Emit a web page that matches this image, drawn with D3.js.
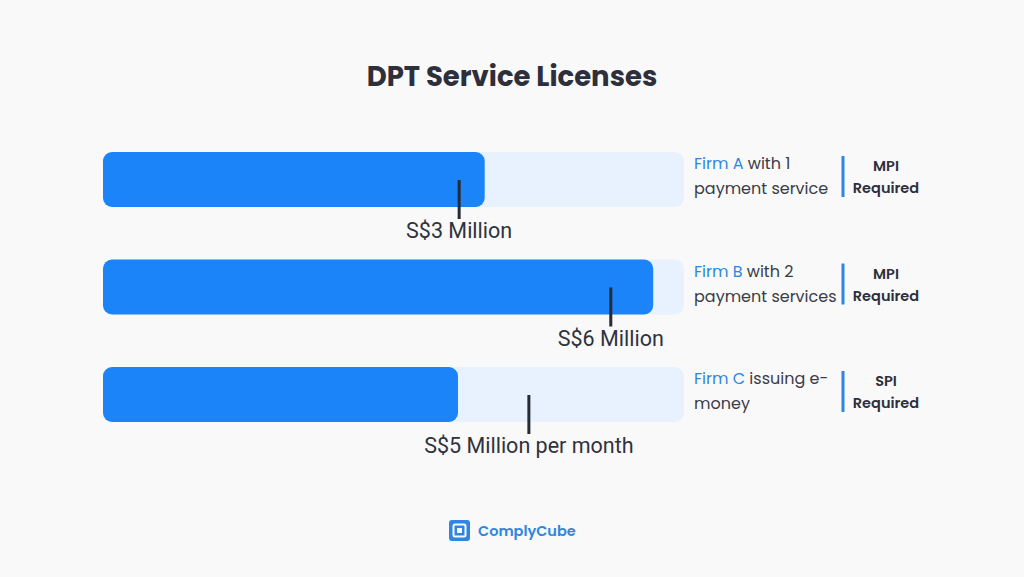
<!DOCTYPE html>
<html><head><meta charset="utf-8">
<script src="https://cdn.jsdelivr.net/npm/d3@7"></script>
<style>
html,body{margin:0;padding:0;background:#f9f9fa;}
svg{display:block;}
</style></head>
<body>
<svg id="chart" width="1024" height="577"></svg>
<script>
// ---- data ----
const title = "DPT Service Licenses";
const firms = ["Firm A", "Firm B", "Firm C"];
const descLine1 = [" with 1", " with 2", " issuing e-"];
const descLine2 = ["payment service", "payment services", "money"];
const fillValues = [6.57, 9.47, 6.11];      // blue bar length (0-10 scale)
const markerValues = [6.13, 8.74, 7.33];    // threshold marker position (0-10 scale)
const markerLabels = ["S$3 Million", "S$6 Million", "S$5 Million per month"];
const licenseType = ["MPI", "MPI", "SPI"];
const licenseNote = ["Required", "Required", "Required"];
const brand = "ComplyCube";

const svg = d3.select("#chart");
const W = 1024, H = 577;
svg.append("rect").attr("width", W).attr("height", H).attr("fill", "#f9f9fa");

const x = d3.scaleLinear().domain([0, 10]).range([103, 684]);
const y = d3.scaleBand().domain(firms).range([152, 422]).paddingInner(0.4884).paddingOuter(0);
const bh = y.bandwidth();

const dark = "#2d2f3a";
const blue = "#1a84f8";
const font = "Poppins, Inter, 'Noto Sans', sans-serif";

svg.append("text").attr("x", 512).attr("y", 86).attr("text-anchor", "middle")
  .attr("font-family", font).attr("font-weight", 700)
  .attr("font-size", 27.5).attr("fill", dark).text(title);

const g = svg.selectAll("g.row").data(firms).enter().append("g").attr("class", "row");

g.append("rect").attr("x", x(0)).attr("y", d => y(d))
  .attr("width", x(10) - x(0)).attr("height", bh).attr("rx", 9)
  .attr("fill", "#e8f2fe");
g.append("rect").attr("x", x(0)).attr("y", d => y(d))
  .attr("width", (d, i) => x(fillValues[i]) - x(0)).attr("height", bh).attr("rx", 9)
  .attr("fill", blue);
g.append("line")
  .attr("x1", (d, i) => x(markerValues[i])).attr("x2", (d, i) => x(markerValues[i]))
  .attr("y1", d => y(d) + 28).attr("y2", d => y(d) + 67)
  .attr("stroke", "#262a35").attr("stroke-width", 3);
g.append("text")
  .attr("x", (d, i) => x(markerValues[i]))
  .attr("y", d => y(d) + 86).attr("text-anchor", "middle")
  .attr("font-family", "Roboto, 'Noto Sans', sans-serif").attr("font-size", 21.5).attr("fill", "#30323c")
  .text((d, i) => markerLabels[i]);

// description
const t1 = g.append("text").attr("x", 694).attr("y", d => y(d) + 17)
  .attr("font-family", font).attr("font-size", 16).attr("fill", "#3a3c46");
t1.append("tspan").attr("fill", "#2f86e0").text(d => d);
t1.append("tspan").text((d, i) => descLine1[i]);
g.append("text").attr("x", 694).attr("y", d => y(d) + 42)
  .attr("font-family", font).attr("font-size", 16).attr("fill", "#3a3c46")
  .text((d, i) => descLine2[i]);

g.append("line").attr("x1", 843).attr("x2", 843)
  .attr("y1", d => y(d) + 4).attr("y2", d => y(d) + 45)
  .attr("stroke", "#2f86e0").attr("stroke-width", 3);
g.append("text").attr("x", 886).attr("y", d => y(d) + 19).attr("text-anchor", "middle")
  .attr("font-family", font).attr("font-weight", 600).attr("font-size", 14.5).attr("fill", "#2d2f3a")
  .text((d, i) => licenseType[i]);
g.append("text").attr("x", 886).attr("y", d => y(d) + 41).attr("text-anchor", "middle")
  .attr("font-family", font).attr("font-weight", 600).attr("font-size", 14.5).attr("fill", "#2d2f3a")
  .text((d, i) => licenseNote[i]);

// logo
const lg = svg.append("g");
lg.append("rect").attr("x", 449).attr("y", 520).attr("width", 21).attr("height", 21).attr("rx", 3).attr("fill", "#2f86e0");
lg.append("rect").attr("x", 453.5).attr("y", 524.5).attr("width", 12).attr("height", 12).attr("rx", 1.5)
  .attr("fill", "none").attr("stroke", "#f9f9fa").attr("stroke-width", 2);
lg.append("rect").attr("x", 457).attr("y", 528).attr("width", 5).attr("height", 5).attr("fill", "#f9f9fa");
lg.append("text").attr("x", 478).attr("y", 536).attr("font-family", font)
  .attr("font-weight", 600).attr("font-size", 14.5).attr("fill", "#2f86e0").text(brand);
</script>
</body></html>
